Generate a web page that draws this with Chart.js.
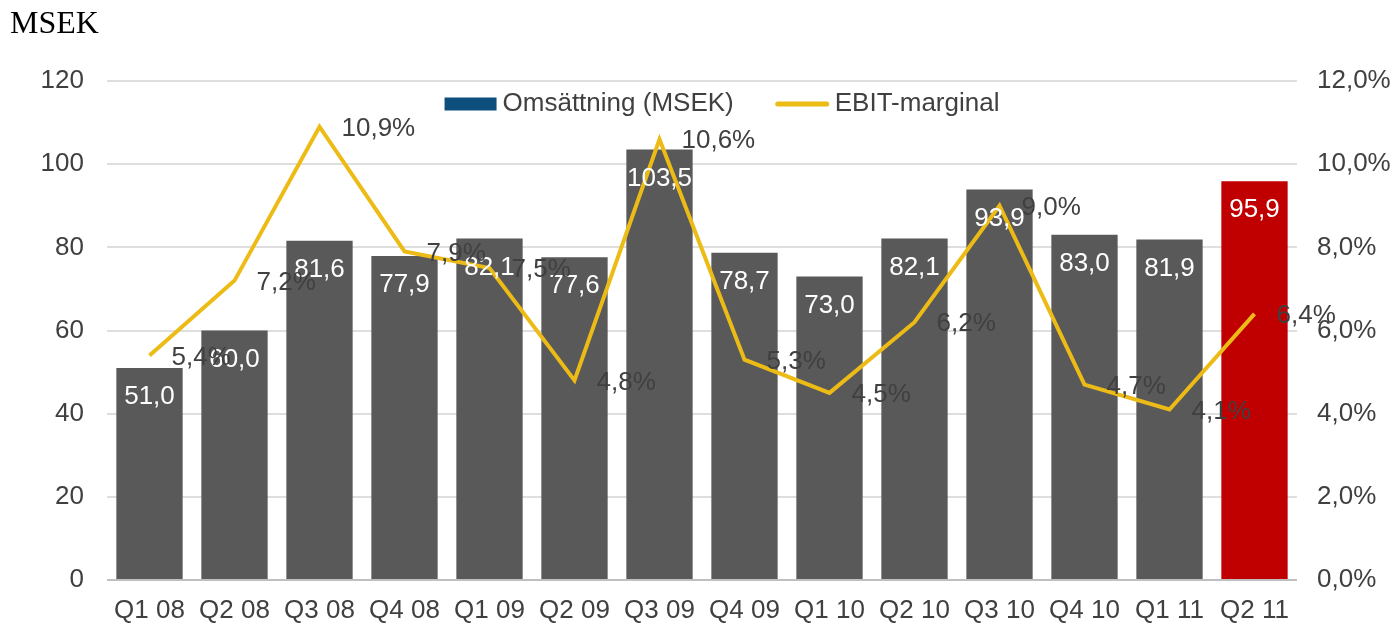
<!DOCTYPE html>
<html>
<head>
<meta charset="utf-8">
<script src="https://cdn.jsdelivr.net/npm/chart.js@4.4.1/dist/chart.umd.min.js"></script>
<style>
  html, body { margin: 0; padding: 0; background: #ffffff; }
  #wrap { width: 1397px; height: 624px; position: relative; }
</style>
</head>
<body>
<div id="wrap"><canvas id="c" width="1397" height="624"></canvas></div>
<script>
const categories = ['Q1 08','Q2 08','Q3 08','Q4 08','Q1 09','Q2 09','Q3 09','Q4 09','Q1 10','Q2 10','Q3 10','Q4 10','Q1 11','Q2 11'];
const omsattning = [51.0, 60.0, 81.6, 77.9, 82.1, 77.6, 103.5, 78.7, 73.0, 82.1, 93.9, 83.0, 81.9, 95.9];
const ebitMarginal = [5.4, 7.2, 10.9, 7.9, 7.5, 4.8, 10.6, 5.3, 4.5, 6.2, 9.0, 4.7, 4.1, 6.4];
const leftTicks = [0, 20, 40, 60, 80, 100, 120];
const rightTicks = [0, 2, 4, 6, 8, 10, 12];
const seriesNames = ['Omsättning (MSEK)', 'EBIT-marginal'];
const unitLabel = 'MSEK';

const FONT = '"Liberation Sans", Arial, sans-serif';
const TEXT = '#404040';
const BAR_GREY = '#595959';
const BAR_RED = '#C00000';
const LINE_GOLD = '#EDBB16';
const LEGEND_BLUE = '#0D4F7C';

const fmt = v => v.toFixed(1).replace('.', ',');

const labelPlugin = {
  id: 'valueLabels',
  afterDatasetsDraw(chart) {
    const ctx = chart.ctx;
    ctx.save();
    ctx.font = '26px ' + FONT;
    ctx.textBaseline = 'middle';
    const barMeta = chart.getDatasetMeta(0);
    ctx.textAlign = 'center';
    ctx.fillStyle = '#ffffff';
    barMeta.data.forEach((el, i) => {
      ctx.fillText(fmt(omsattning[i]), el.x, el.y + 29);
    });
    const lineMeta = chart.getDatasetMeta(1);
    ctx.textAlign = 'left';
    ctx.fillStyle = TEXT;
    lineMeta.data.forEach((el, i) => {
      ctx.fillText(fmt(ebitMarginal[i]) + '%', el.x + 22, el.y + 2);
    });
    ctx.restore();
  }
};

// Legend drawn inside the plot area, as in the reference
const innerLegend = {
  id: 'innerLegend',
  beforeDatasetsDraw(chart) {
    const ctx = chart.ctx;
    const area = chart.chartArea;
    ctx.save();
    ctx.font = '26px ' + FONT;
    ctx.textBaseline = 'middle';
    ctx.textAlign = 'left';
    const boxW = 52, lineW = 53, gap = 6, itemGap = 42;
    const w0 = ctx.measureText(seriesNames[0]).width;
    const w1 = ctx.measureText(seriesNames[1]).width;
    const total = boxW + gap + w0 + itemGap + lineW + gap + w1;
    let x = (area.left + area.right) / 2 + 20 - total / 2;
    const y = area.top + 23;
    ctx.fillStyle = LEGEND_BLUE;
    ctx.fillRect(x, y - 6.5, boxW, 13);
    x += boxW + gap;
    ctx.fillStyle = TEXT;
    ctx.fillText(seriesNames[0], x, y);
    x += w0 + itemGap;
    ctx.strokeStyle = LINE_GOLD;
    ctx.lineWidth = 5;
    ctx.lineCap = 'round';
    ctx.beginPath();
    ctx.moveTo(x + 2, y);
    ctx.lineTo(x + lineW - 2, y);
    ctx.stroke();
    x += lineW + gap;
    ctx.fillText(seriesNames[1], x, y);
    ctx.restore();
  }
};

new Chart(document.getElementById('c'), {
  type: 'bar',
  data: {
    labels: categories,
    datasets: [
      {
        type: 'bar',
        label: seriesNames[0],
        data: omsattning,
        backgroundColor: omsattning.map((v, i) => i === omsattning.length - 1 ? BAR_RED : BAR_GREY),
        barPercentage: 0.78,
        categoryPercentage: 1.0,
        yAxisID: 'y',
        order: 2
      },
      {
        type: 'line',
        label: seriesNames[1],
        data: ebitMarginal,
        borderColor: LINE_GOLD,
        borderWidth: 4,
        pointRadius: 0,
        tension: 0,
        fill: false,
        yAxisID: 'y1',
        order: 1
      }
    ]
  },
  options: {
    responsive: false,
    animation: false,
    events: [],
    layout: { padding: { left: 10, right: 0, top: 0, bottom: 0 } },
    plugins: {
      tooltip: { enabled: false },
      legend: { display: false },
      title: {
        display: true,
        text: unitLabel,
        align: 'start',
        color: '#000000',
        font: { family: '"Liberation Serif", "Times New Roman", serif', size: 32, weight: 'normal', lineHeight: 1.2 },
        padding: { top: 5, bottom: 37.6 }
      }
    },
    scales: {
      x: {
        offset: true,
        grid: { display: false, drawTicks: false },
        border: { display: false },
        ticks: { color: TEXT, font: { family: FONT, size: 26 }, padding: 15, maxRotation: 0, autoSkip: false },
        afterFit(scale) { scale.height = 44; }
      },
      y: {
        position: 'left',
        min: 0,
        max: 120,
        afterBuildTicks(scale) { scale.ticks = leftTicks.map(v => ({ value: v })); },
        grid: {
          color: ctx => ctx.tick && ctx.tick.value === 0 ? '#BFBFBF' : '#DEDEDE',
          lineWidth: 2,
          drawTicks: false
        },
        border: { display: false },
        ticks: { color: TEXT, font: { family: FONT, size: 26 }, padding: 23 },
        afterFit(scale) { scale.width = 97; }
      },
      y1: {
        position: 'right',
        min: 0,
        max: 12,
        afterBuildTicks(scale) { scale.ticks = rightTicks.map(v => ({ value: v })); },
        grid: { drawOnChartArea: false, drawTicks: false },
        border: { display: false },
        ticks: { color: TEXT, font: { family: FONT, size: 26 }, padding: 20, callback: v => fmt(v) + '%' },
        afterFit(scale) { scale.width = 100; }
      }
    }
  },
  plugins: [innerLegend, labelPlugin]
});
</script>
</body>
</html>
